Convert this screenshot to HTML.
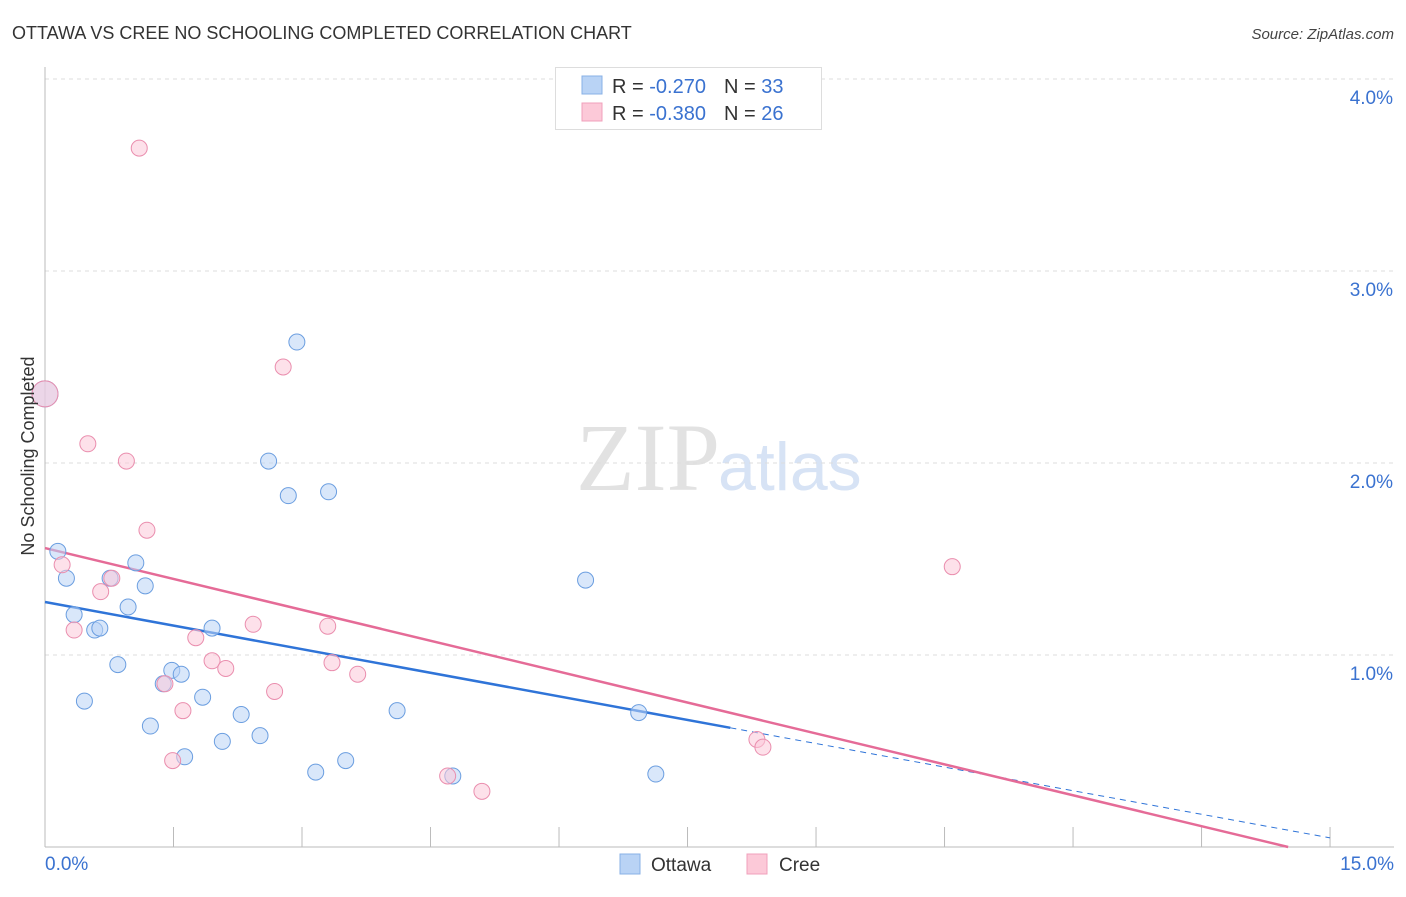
<!DOCTYPE html>
<html><head><meta charset="utf-8"><style>
body{margin:0;background:#fff;font-family:"Liberation Sans",sans-serif}
svg text{font-family:"Liberation Sans",sans-serif}
</style></head><body>
<svg id="c" width="1406" height="892">
<text x="12" y="39" font-size="18" fill="#333">OTTAWA VS CREE NO SCHOOLING COMPLETED CORRELATION CHART</text>
<text x="1394" y="39" font-size="15" fill="#444" font-style="italic" text-anchor="end">Source: ZipAtlas.com</text>
<text x="720" y="490" font-size="96" fill="#e2e2e2" text-anchor="end" font-family="Liberation Serif" style="font-family:'Liberation Serif',serif">ZIP</text>
<text x="718" y="490" font-size="68" fill="#d7e3f5">atlas</text>
<g id="grid"></g><g id="axes"></g><g id="lines"></g><g id="pts"></g>
<text transform="translate(34,456) rotate(-90)" font-size="18" fill="#333" text-anchor="middle">No Schooling Completed</text>
<g>
<rect x="555.5" y="67.5" width="266" height="62" fill="#fff" stroke="#ddd"/>
<rect x="582" y="76" width="20" height="18" fill="#b9d3f5" stroke="#88b0e6"/>
<rect x="582" y="103" width="20" height="18" fill="#fcc9d8" stroke="#f0a0bb"/>
<text x="612" y="93" font-size="20" fill="#333">R = <tspan fill="#3a72d0">-0.270</tspan><tspan dx="18">N = </tspan><tspan fill="#3a72d0">33</tspan></text>
<text x="612" y="120" font-size="20" fill="#333">R = <tspan fill="#3a72d0">-0.380</tspan><tspan dx="18">N = </tspan><tspan fill="#3a72d0">26</tspan></text>
</g>
<g>
<rect x="620" y="854" width="20" height="20" fill="#b9d3f5" stroke="#88b0e6"/>
<text x="651" y="871" font-size="19" fill="#333">Ottawa</text>
<rect x="747" y="854" width="20" height="20" fill="#fcc9d8" stroke="#f0a0bb"/>
<text x="779" y="871" font-size="19" fill="#333">Cree</text>
</g>
</svg>
<script>
const xTicks=[0,1.5,3,4.5,6,7.5,9,10.5,12,13.5,15];
const yTicks=[1,2,3,4];
const yTickLabels=["1.0%","2.0%","3.0%","4.0%"];
const ottawaX=[0,0.15,0.25,0.34,0.58,0.64,0.46,0.85,0.76,0.97,1.06,1.17,1.23,1.38,1.48,1.59,1.63,1.84,1.95,2.07,2.29,2.51,2.61,2.84,2.94,3.16,3.31,3.51,4.11,4.76,6.31,6.93,7.13];
const ottawaY=[2.36,1.54,1.40,1.21,1.13,1.14,0.76,0.95,1.40,1.25,1.48,1.36,0.63,0.85,0.92,0.90,0.47,0.78,1.14,0.55,0.69,0.58,2.01,1.83,2.63,0.39,1.85,0.45,0.71,0.37,1.39,0.70,0.38];
const creeX=[0,0.2,0.34,0.5,0.65,0.78,0.95,1.1,1.19,1.4,1.49,1.61,1.76,1.95,2.11,2.43,2.68,2.78,3.3,3.35,3.65,4.70,5.1,8.31,8.38,10.59];
const creeY=[2.36,1.47,1.13,2.10,1.33,1.40,2.01,3.64,1.65,0.85,0.45,0.71,1.09,0.97,0.93,1.16,0.81,2.50,1.15,0.96,0.90,0.37,0.29,0.56,0.52,1.46];
const ottawaFit=[1.276,-0.0819];
const creeFit=[1.557,-0.1073];
const X=v=>45+v*85.67, Y=v=>847-v*192;
const NS="http://www.w3.org/2000/svg";
function mk(p,t,a){const e=document.createElementNS(NS,t);for(const k in a)e.setAttribute(k,a[k]);document.getElementById(p).appendChild(e);return e;}
yTicks.forEach((v,i)=>{
 const l=mk('grid','line',{x1:45,x2:1394,y1:Y(v),y2:Y(v),stroke:'#ddd','stroke-dasharray':'4,4'});
 
 
 const t=mk('grid','text',{x:1393,y:Y(v)+25,'font-size':19,fill:'#3a72d0','text-anchor':'end'});t.textContent=yTickLabels[i];
 
 
});
mk('axes','line',{x1:45,x2:45,y1:67,y2:847,stroke:'#bbb'});
mk('axes','line',{x1:45,x2:1394,y1:847,y2:847,stroke:'#bbb'});
xTicks.slice(1).forEach(v=>{const l=mk('axes','line',{x1:X(v),x2:X(v),y1:827,y2:847,stroke:'#bbb'});
 
 });
let t=mk('axes','text',{x:45,y:870,'font-size':19,fill:'#3a72d0'});t.textContent='0.0%';


t=mk('axes','text',{x:1394,y:870,'font-size':19,fill:'#3a72d0','text-anchor':'end'});t.textContent='15.0%';


function dot(x,y,f,s,name,r){const c=mk('pts','circle',{cx:X(x),cy:Y(y),r:r,fill:f,'fill-opacity':0.55,stroke:s,'stroke-width':1});
 
 }
ottawaX.forEach((x,i)=>dot(x,ottawaY[i],'#b9d3f5','#6b9ee0','ottawa-point',i==0?13:8));
creeX.forEach((x,i)=>dot(x,creeY[i],'#fcc9d8','#ea8eae','cree-point',i==0?13:8));
const bEnd=8.0;
let l=mk('lines','line',{x1:X(0),y1:Y(ottawaFit[0]),x2:X(bEnd),y2:Y(ottawaFit[0]+ottawaFit[1]*bEnd),stroke:'#2f74d8','stroke-width':2.5});


l=mk('lines','line',{x1:X(bEnd),y1:Y(ottawaFit[0]+ottawaFit[1]*bEnd),x2:X(15),y2:Y(ottawaFit[0]+ottawaFit[1]*15),stroke:'#2f74d8','stroke-width':1,'stroke-dasharray':'6,5'});


const cEnd=-creeFit[0]/creeFit[1];
l=mk('lines','line',{x1:X(0),y1:Y(creeFit[0]),x2:X(cEnd),y2:Y(0),stroke:'#e56b97','stroke-width':2.5});


</script>
</body></html>
